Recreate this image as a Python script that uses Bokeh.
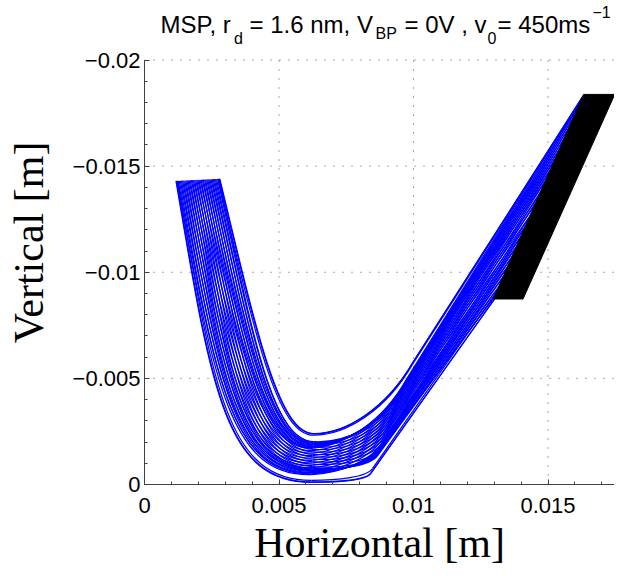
from bokeh.plotting import figure
from bokeh.models import Range1d, FixedTicker, Label, CustomJSTickFormatter
from bokeh.embed import file_html
from bokeh.resources import INLINE

# ---- data ----
# key nodes (cubic Bezier chain: P, C, C, P, C, C, P, C, C, P) of the two edge trajectories
outer_x = [0.00117, 0.0025, 0.0030, 0.0062, 0.0072, 0.00823, 0.0084, 0.00997, 0.01153, 0.0131]
outer_y = [-0.0143, -0.0043, -0.0001, -0.0001, -0.0001, -0.0002, -0.0005, -0.0033, -0.0061, -0.0089]
inner_x = [0.0028, 0.0042, 0.0050, 0.0063, 0.0075, 0.0090, 0.0100, 0.0119, 0.0143, 0.0163]
inner_y = [-0.0144, -0.0070, -0.0024, -0.0024, -0.0024, -0.0036, -0.0058, -0.0096, -0.0143, -0.0183]
# place of each trajectory inside the beam at launch and at the end (0 = outer edge, 1 = inner edge)
start_pos = [0.0, 0.025, 0.05, 0.075, 0.1, 0.125, 0.15, 0.175, 0.2, 0.225, 0.25, 0.275, 0.3, 0.325,
             0.35, 0.375, 0.4, 0.425, 0.45, 0.475, 0.5, 0.525, 0.55, 0.575, 0.6, 0.625, 0.65, 0.675,
             0.7, 0.725, 0.75, 0.775, 0.8, 0.825, 0.85, 0.875, 0.9, 0.925, 0.95, 0.975, 1.0,
             0.0125, 0.0375, 0.9625, 0.9875]
end_pos = [0.0, 0.425, 0.5, 0.375, 0.55, 0.325, 0.6, 0.275, 0.65, 0.225, 0.7, 0.175, 0.75, 0.125,
           0.8, 0.075, 0.85, 0.025, 0.9, 0.025, 0.95, 0.075, 1.0, 0.125, 0.95, 0.175, 0.9, 0.225,
           0.85, 0.275, 0.8, 0.325, 0.75, 0.375, 0.7, 0.425, 0.65, 0.475, 0.6, 0.525, 1.0,
           0.0, 0.05, 0.975, 1.0]
# black target region
det_x = [0.01296, 0.01407, 0.01748, 0.01632]
det_y = [-0.00874, -0.00874, -0.01838, -0.01838]

x_ticks = [0, 0.005, 0.01, 0.015]
y_ticks = [0, -0.005, -0.01, -0.015, -0.02]
x_minor = [i * 0.001 for i in range(0, 18)]
y_minor = [-i * 0.001 for i in range(0, 21)]
x_lim = (0, 0.01747)
y_lim = (0, -0.02)

W, H = 614, 568
FL, FB = 144, 488  # frame left / bottom in page pixels
PX_PER_Y = (FB - 60) / 0.02  # y=-0.02 sits 60px below the top
p = figure(width=W, height=H, output_backend="svg", toolbar_location=None, title=None,
           x_range=Range1d(*x_lim), y_range=Range1d(0, -FB / PX_PER_Y),
           min_border_left=FL, min_border_right=0, min_border_top=0, min_border_bottom=H - FB)
p.outline_line_color = None
p.background_fill_color = "white"
p.border_fill_color = "white"
p.xgrid.visible = False
p.ygrid.visible = False

# dotted grid limited to the axes box
gx = [t for t in x_ticks if t != 0]
p.segment(x0=gx, y0=[y_lim[0]] * len(gx), x1=gx, y1=[y_lim[1]] * len(gx),
          line_color="#505050", line_dash="1 8", line_width=1, level="underlay")
gy = [t for t in y_ticks if t != 0]
p.segment(x0=[x_lim[0]] * len(gy), y0=gy, x1=[x_lim[1]] * len(gy), y1=gy,
          line_color="#505050", line_dash="1 8", line_width=1, level="underlay")

# trajectories
seg = {k: [] for k in ["x0", "y0", "x1", "y1", "cx0", "cy0", "cx1", "cy1"]}
n = len(outer_x)
for s, a in zip(start_pos, end_pos):
    nodes = []
    for j in range(n):
        t = j / (n - 1)
        w = s + (a - s) * t
        nodes.append((outer_x[j] + w * (inner_x[j] - outer_x[j]),
                      outer_y[j] + w * (inner_y[j] - outer_y[j])))
    for k in range(3):
        P0, C0, C1, P1 = nodes[3 * k], nodes[3 * k + 1], nodes[3 * k + 2], nodes[3 * k + 3]
        seg["x0"].append(P0[0]); seg["y0"].append(P0[1])
        seg["cx0"].append(C0[0]); seg["cy0"].append(C0[1])
        seg["cx1"].append(C1[0]); seg["cy1"].append(C1[1])
        seg["x1"].append(P1[0]); seg["y1"].append(P1[1])

p.bezier(x0=seg["x0"], y0=seg["y0"], x1=seg["x1"], y1=seg["y1"],
         cx0=seg["cx0"], cy0=seg["cy0"], cx1=seg["cx1"], cy1=seg["cy1"],
         line_color="#0000ff", line_width=1.25)

p.patch(det_x, det_y, fill_color="black", line_color="black", line_width=1)

# axes
for ax, ticks, minor in [(p.xaxis, x_ticks, x_minor), (p.yaxis, y_ticks, y_minor)]:
    ax.ticker = FixedTicker(ticks=ticks, minor_ticks=minor)
    ax.axis_line_color = "#404040"
    ax.axis_line_width = 1
    ax.major_tick_in = 5
    ax.major_tick_out = 0
    ax.minor_tick_in = 3
    ax.minor_tick_out = 0
    ax.major_tick_line_color = "#404040"
    ax.minor_tick_line_color = "#404040"
    ax.major_label_text_font = "Liberation Sans"
    ax.major_label_text_font_size = "22px"
    ax.major_label_text_color = "black"
    ax.axis_label_text_font = "Liberation Serif"
    ax.axis_label_text_font_size = "42px"
    ax.axis_label_text_font_style = "normal"
    ax.axis_label_text_color = "black"
p.yaxis.bounds = (-0.02, 0)

p.xaxis.formatter = CustomJSTickFormatter(code="return (Math.round(tick*1000)/1000).toString();")
p.yaxis.formatter = CustomJSTickFormatter(
    code="return tick === 0 ? '0' : '\\u2212' + (Math.round(-tick*1000)/1000).toString();")
p.xaxis.major_label_standoff = 13
p.yaxis.major_label_standoff = 4
p.xaxis.axis_label = "Horizontal [m]"
p.yaxis.axis_label = "Vertical [m]"
p.xaxis.axis_label_standoff = 4
p.yaxis.axis_label_standoff = 18

# title pieces (main text, subscripts, superscript); positions in page pixels
pieces = [
    ("MSP, r", 160, 28.3, "24px"),
    ("d", 233.5, 41.5, "16px"),
    ("= 1.6 nm, V", 249, 28.3, "24px"),
    ("BP", 375, 36.5, "16px"),
    ("= 0V , v", 404, 28.3, "24px"),
    ("0", 487, 41.5, "16px"),
    ("= 450ms", 497, 28.3, "24px"),
    ("\u22121", 592, 15, "16px"),
]
for txt, x, y, size in pieces:
    p.add_layout(Label(x=x - FL, y=FB - y, x_units="screen", y_units="screen", text=txt,
                       text_font="Liberation Sans", text_font_size=size, text_color="black",
                       text_baseline="alphabetic", text_align="left"))

open("out.html", "w").write(file_html(p, INLINE))
